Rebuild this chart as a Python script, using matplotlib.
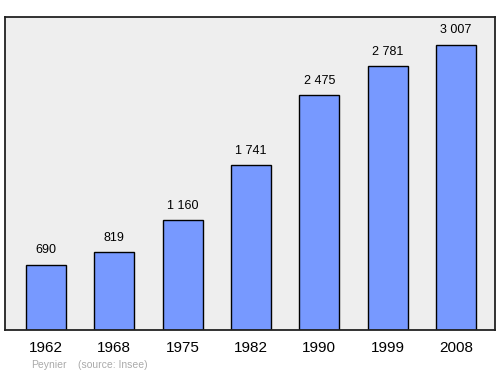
import matplotlib.pyplot as plt

plt.rcParams['font.family'] = ['Liberation Sans', 'DejaVu Sans']

years = ['1962', '1968', '1975', '1982', '1990', '1999', '2008']
population = [690, 819, 1160, 1741, 2475, 2781, 3007]
labels = ['690', '819', '1 160', '1 741', '2 475', '2 781', '3 007']

fig = plt.figure(figsize=(5, 3.74), dpi=100)
ax = fig.add_axes([5 / 500, 1 - 330 / 374, 490 / 500, 313 / 374])
ax.set_facecolor('#eeeeee')

x = range(len(years))
ax.bar(x, population, width=0.585, color='#7799ff', edgecolor='black', linewidth=1.0, zorder=2)

# value labels above the bars
for i, (v, lab) in enumerate(zip(population, labels)):
    ax.annotate(lab, (i, v), xytext=(0, 6), textcoords='offset points',
                ha='center', va='bottom', fontsize=9)

ax.set_xlim(-0.6, 6.57)
ax.set_ylim(0, 3300)
ax.set_xticks(list(x))
ax.set_xticklabels(years, fontsize=11)
ax.tick_params(axis='x', length=0, pad=8)
ax.set_yticks([])
for s in ax.spines.values():
    s.set_linewidth(1.3)
    s.set_color('#222222')

fig.text(31 / 500, 1 - 365 / 374, 'Peynier', color='#aaaaaa', fontsize=7.5, va='center')
fig.text(78 / 500, 1 - 365 / 374, '(source: Insee)', color='#aaaaaa', fontsize=7.5, va='center')

fig.savefig('out.png', dpi=100)
